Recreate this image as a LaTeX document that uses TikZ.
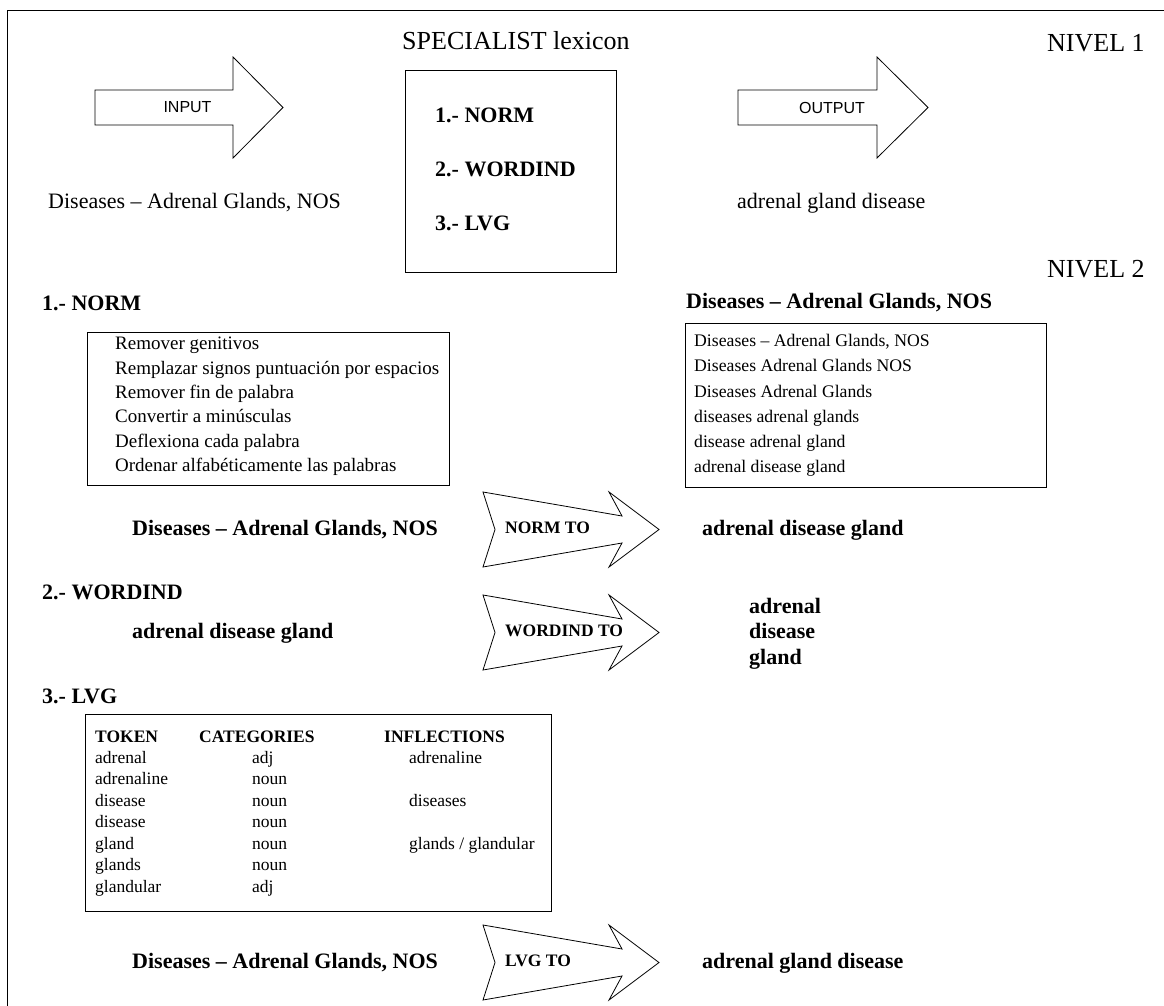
\documentclass[tikz,border=0pt]{standalone}
\usepackage{fontspec}
\setmainfont{Liberation Serif}
\newfontfamily\arialfont{Liberation Sans}
\begin{document}
\begin{tikzpicture}[x=1pt,y=-1pt,
  every node/.style={inner sep=0pt},
  shp/.style={draw=black,line width=0.8pt,line join=miter},
  reg/.style={anchor=west,font=\fontsize{22}{26}\selectfont,text height=15.5pt,text depth=4.5pt},
  big/.style={anchor=west,font=\fontsize{26}{30}\selectfont,text height=18pt,text depth=5pt},
  bld/.style={anchor=west,font=\fontsize{22}{26}\selectfont\bfseries,text height=15.5pt,text depth=4.5pt},
  sml/.style={anchor=west,font=\fontsize{19}{22}\selectfont,text height=13.5pt,text depth=4pt},
  smr/.style={anchor=west,font=\fontsize{17.7}{21}\selectfont,text height=12.5pt,text depth=3.7pt},
  tbl/.style={anchor=west,font=\fontsize{17.5}{21}\selectfont,text height=12.4pt,text depth=3.6pt},
  tblh/.style={anchor=west,font=\fontsize{17.5}{21}\selectfont\bfseries,text height=12.4pt,text depth=3.6pt},
  arw/.style={anchor=west,font=\fontsize{17.5}{20}\selectfont\bfseries,text height=12.4pt,text depth=3.6pt},
  sans/.style={font=\fontsize{16}{19}\selectfont\arialfont},
  fancyarrow/.pic={\draw[shp] (0,0) -- (139,24) -- (126,0) -- (176,37.5) -- (126,75) -- (139,51) -- (0,75) -- (12,37.5) -- cycle;}]
\useasboundingbox (0,0) rectangle (1164,1006);
% frame
\draw[shp] (7,1006) -- (7,10) -- (1164,10);

% ---------- NIVEL 1 ----------
\node[big] (spec) at (402,43) {SPECIALIST lexicon};
\node[big] (niv1) at (1047,45) {NIVEL 1};
\node[big] (niv2) at (1047,271) {NIVEL 2};

\draw[shp] (95,90) -- (233,90) -- (233,57) -- (283,107.5) -- (233,158) -- (233,125) -- (95,125) -- cycle;
\node[sans] (input) at (187.5,107.5) {INPUT};
\draw[shp] (738,90) -- (877,90) -- (877,57) -- (928,107.5) -- (877,158) -- (877,125) -- (738,125) -- cycle;
\node[sans] (output) at (832,107.5) {OUTPUT};

\node[reg] (inlbl) at (48,203) {Diseases – Adrenal Glands, NOS};
\node[reg] (outlbl) at (737,203) {adrenal gland disease};

\draw[shp] (405,70) rectangle (616,272);
\node[bld] (s1) at (435,117) {1.- NORM};
\node[bld] (s2) at (435,171) {2.- WORDIND};
\node[bld] (s3) at (435,225) {3.- LVG};

% ---------- NORM ----------
\node[bld] (hnorm) at (42,305) {1.- NORM};
\draw[shp] (87,332) rectangle (449,485);
\foreach \t [count=\i] in {Remover genitivos, Remplazar signos puntuación por espacios, Remover fin de palabra, Convertir a minúsculas, Deflexiona cada palabra, Ordenar alfabéticamente las palabras}
  \node[sml] (nl\i) at (115,{345+(\i-1)*24.4}) {\t};

\node[bld] (hdis) at (686,303) {Diseases – Adrenal Glands, NOS};
\draw[shp] (685,323) rectangle (1046,487);
\foreach \t [count=\i] in {{Diseases – Adrenal Glands, NOS}, Diseases Adrenal Glands NOS, Diseases Adrenal Glands, diseases adrenal glands, disease adrenal gland, adrenal disease gland}
  \node[smr] (rl\i) at (694,{342+(\i-1)*25.3}) {\t};

\node[bld] (nin) at (132,529.5) {Diseases – Adrenal Glands, NOS};
\pic at (483,492) {fancyarrow};
\node[arw] (normto) at (505,529.5) {NORM TO};
\node[bld] (nout) at (702,529.5) {adrenal disease gland};

% ---------- WORDIND ----------
\node[bld] (hword) at (42,594) {2.- WORDIND};
\node[bld] (win) at (132,632.5) {adrenal disease gland};
\pic at (483,595) {fancyarrow};
\node[arw] (wordto) at (505,632.5) {WORDIND TO};
\node[bld] (w1) at (749,608) {adrenal};
\node[bld] (w2) at (749,633) {disease};
\node[bld] (w3) at (749,659) {gland};

% ---------- LVG ----------
\node[bld] (hlvg) at (42,698) {3.- LVG};
\draw[shp] (85,714) rectangle (551,911);
\node[tblh] (th1) at (95,738) {TOKEN};
\node[tblh] (th2) at (199,738) {CATEGORIES};
\node[tblh] (th3) at (384,738) {INFLECTIONS};
\foreach \a/\b/\c [count=\i] in {adrenal/adj/adrenaline, adrenaline/noun/{}, disease/noun/diseases, disease/noun/{}, gland/noun/{glands / glandular}, glands/noun/{}, glandular/adj/{}}
{
  \node[tbl] (ta\i) at (95,{759+(\i-1)*21.45}) {\a};
  \node[tbl] (tb\i) at (252,{759+(\i-1)*21.45}) {\b};
  \node[tbl] (tc\i) at (409,{759+(\i-1)*21.45}) {\c};
}

\node[bld] (lin) at (132,962.5) {Diseases – Adrenal Glands, NOS};
\pic at (483,925) {fancyarrow};
\node[arw] (lvgto) at (505,962.5) {LVG TO};
\node[bld] (lout) at (702,962.5) {adrenal gland disease};
\end{tikzpicture}
\end{document}
